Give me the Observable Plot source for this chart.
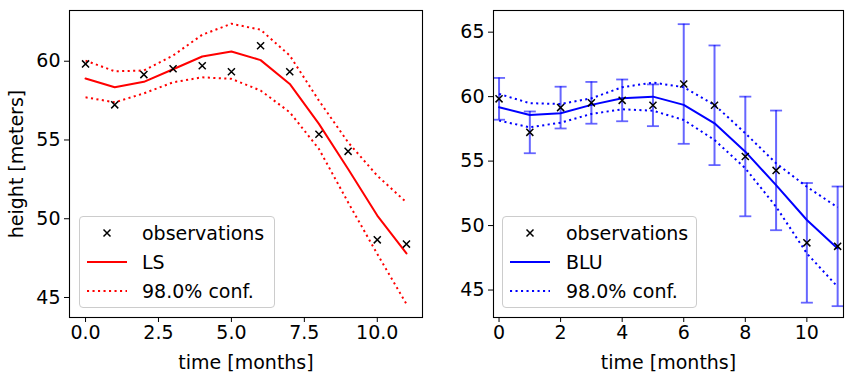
<!DOCTYPE html>
<html>
<head>
<meta charset="utf-8">
<script src="https://cdn.jsdelivr.net/npm/d3@7"></script>
<script src="https://cdn.jsdelivr.net/npm/@observablehq/plot@0.6"></script>
<style>
  body { margin: 0; background: white; font-family: "DejaVu Sans", sans-serif; }
  #wrap { position: relative; width: 854px; height: 381px; overflow: hidden; }
  .panel { position: absolute; top: 0; }
  .legend { position: absolute; background: rgba(255,255,255,0.8); border: 1px solid #cccccc; border-radius: 4px; box-sizing: border-box; font-size: 19px; color: black; }
  .legend .row { position: absolute; left: 0; height: 28px; display: flex; align-items: center; white-space: nowrap; }
  .legend svg { display: block; }
</style>
</head>
<body>
<div id="wrap"></div>
<script>
// ---- data ----
const months = [0, 1, 2, 3, 4, 5, 6, 7, 8, 9, 10, 11];
const observations = [59.83, 57.23, 59.15, 59.52, 59.71, 59.33, 60.98, 59.33, 55.36, 54.28, 48.66, 48.39];
const obsError = [1.62, 1.62, 1.62, 1.62, 1.62, 1.62, 4.64, 4.64, 4.64, 4.64, 4.64, 4.64];
const lsFit   = [58.90, 58.35, 58.69, 59.49, 60.30, 60.62, 60.07, 58.56, 56.02, 53.16, 50.20, 47.80];
const lsUpper = [60.04, 59.36, 59.41, 60.36, 61.68, 62.38, 62.00, 60.36, 57.50, 54.85, 52.73, 51.04];
const lsLower = [57.71, 57.39, 57.96, 58.66, 58.98, 58.88, 58.14, 56.76, 54.43, 51.04, 47.76, 44.58];
const bluFit   = [59.18, 58.58, 58.71, 59.36, 59.87, 60.00, 59.36, 57.93, 55.73, 53.14, 50.43, 48.23];
const bluUpper = [60.21, 59.49, 59.43, 59.87, 60.73, 61.09, 60.73, 59.36, 57.16, 54.83, 53.01, 51.41];
const bluLower = [58.14, 57.62, 57.98, 58.66, 59.02, 58.91, 58.19, 56.64, 54.44, 51.46, 47.84, 45.25];
const leftXTicks = [0, 2.5, 5, 7.5, 10];
const rightXTicks = [0, 2, 4, 6, 8, 10];
const leftYTicks = [45, 50, 55, 60];
const rightYTicks = [45, 50, 55, 60, 65];
const leftLegend = ["observations", "LS", "98.0% conf."];
const rightLegend = ["observations", "BLU", "98.0% conf."];
const xLabel = "time [months]";
const yLabel = "height [meters]";

const rows = months.map((m, i) => ({
  t: m, obs: observations[i], err: obsError[i],
  ls: lsFit[i], lsU: lsUpper[i], lsL: lsLower[i],
  blu: bluFit[i], bluU: bluUpper[i], bluL: bluLower[i]
}));

const capSymbol = { draw(ctx) { ctx.moveTo(-6, 0); ctx.lineTo(6, 0); } };
const dash = "2.1,3.4";
const font = "DejaVu Sans";

function axes(xTicks, yTicks, xFmt, withYLabel) {
  return [
    Plot.axisX({ ticks: xTicks, tickFormat: xFmt, tickSize: 5, tickPadding: 3, label: xLabel, labelAnchor: "center", labelArrow: "none", labelOffset: 51 }),
    Plot.axisY({ ticks: yTicks, tickSize: 5, tickPadding: 4, label: withYLabel ? yLabel : null, labelAnchor: "center", labelArrow: "none", labelOffset: 60 }),
    Plot.frame({ stroke: "black", strokeWidth: 1.1 })
  ];
}

const common = { width: 427, height: 381, marginTop: 10, marginBottom: 64,
  style: { fontSize: "19px", fontFamily: font, color: "black", background: "transparent", overflow: "visible" } };

const dotted = { strokeWidth: 2, strokeDasharray: dash, strokeLinecap: "butt" };

const left = Plot.plot({
  ...common, marginLeft: 69, marginRight: 5,
  x: { domain: [-0.55, 11.55] },
  y: { domain: [43.73, 63.22] },
  marks: [
    Plot.line(rows, { x: "t", y: "lsU", stroke: "#ff0000", ...dotted }),
    Plot.line(rows, { x: "t", y: "lsL", stroke: "#ff0000", ...dotted }),
    Plot.line(rows, { x: "t", y: "ls", stroke: "#ff0000", strokeWidth: 2 }),
    Plot.dot(rows, { x: "t", y: "obs", symbol: "times", r: 3.3, stroke: "black", strokeWidth: 1.5 }),
    ...axes(leftXTicks, leftYTicks, d => d.toFixed(1), true)
  ]
});

const right = Plot.plot({
  ...common, marginLeft: 66, marginRight: 11,
  x: { domain: [-0.18, 11.19] },
  y: { domain: [42.87, 66.68] },
  marks: [
    Plot.ruleX(rows, { x: "t", y1: d => d.obs - d.err, y2: d => d.obs + d.err, stroke: "#0000ff", strokeOpacity: 0.6, strokeWidth: 2 }),
    Plot.dot(rows, { x: "t", y: d => d.obs - d.err, symbol: capSymbol, stroke: "#0000ff", strokeOpacity: 0.6, strokeWidth: 1.8 }),
    Plot.dot(rows, { x: "t", y: d => d.obs + d.err, symbol: capSymbol, stroke: "#0000ff", strokeOpacity: 0.6, strokeWidth: 1.8 }),
    Plot.line(rows, { x: "t", y: "bluU", stroke: "#0000ff", ...dotted }),
    Plot.line(rows, { x: "t", y: "bluL", stroke: "#0000ff", ...dotted }),
    Plot.line(rows, { x: "t", y: "blu", stroke: "#0000ff", strokeWidth: 2 }),
    Plot.dot(rows, { x: "t", y: "obs", symbol: "times", r: 3.3, stroke: "black", strokeWidth: 1.5 }),
    ...axes(rightXTicks, rightYTicks, d => String(d), false)
  ]
});

const wrap = document.getElementById("wrap");
function place(el, x) {
  const d = document.createElement("div");
  d.className = "panel"; d.style.left = x + "px";
  d.appendChild(el); wrap.appendChild(d);
}
place(left, 0);
place(right, 427);

function legend(labels, color, box) {
  const lg = document.createElement("div");
  lg.className = "legend";
  Object.assign(lg.style, { left: box.x + "px", top: box.y + "px", width: box.w + "px", height: box.h + "px" });
  const swatches = [
    `<path d="M16.5,-3.5L23.5,3.5M16.5,3.5L23.5,-3.5" stroke="black" stroke-width="1.5"/>`,
    `<line x1="0" x2="40" y1="0" y2="0" stroke="${color}" stroke-width="2"/>`,
    `<line x1="0" x2="40" y1="0" y2="0" stroke="${color}" stroke-width="2" stroke-dasharray="${dash}"/>`
  ];
  labels.forEach((lab, i) => {
    const r = document.createElement("div");
    r.className = "row";
    r.style.top = (box.rowY[i] - 14) + "px";
    r.style.left = box.swX + "px";
    r.innerHTML = `<svg width="40" height="28" viewBox="0 -14 40 28" style="overflow:visible">${swatches[i]}</svg><span style="margin-left:${box.gap}px">${lab}</span>`;
    lg.appendChild(r);
  });
  wrap.appendChild(lg);
}
legend(leftLegend, "#ff0000", { x: 79, y: 216, w: 196, h: 92, rowY: [16, 45, 73.5], swX: 7, gap: 15 });
legend(rightLegend, "#0000ff", { x: 502, y: 216, w: 195, h: 92, rowY: [16, 45, 73.5], swX: 7, gap: 16 });
</script>
</body>
</html>
